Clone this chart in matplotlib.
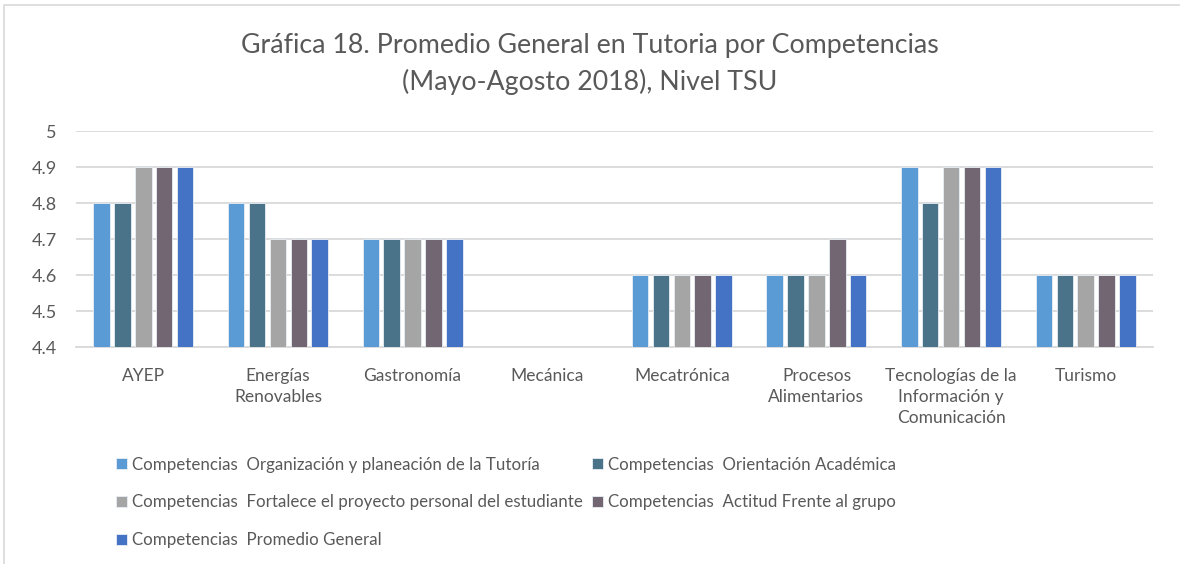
import matplotlib
matplotlib.use("Agg")
import matplotlib.pyplot as plt
import numpy as np
from matplotlib.patches import Rectangle

plt.rcParams["font.family"] = ["Lato", "DejaVu Sans"]

categories = ["AYEP", "Energías\nRenovables", "Gastronomía", "Mecánica", "Mecatrónica",
              "Procesos\nAlimentarios", "Tecnologías de la\nInformación y\nComunicación", "Turismo"]
series_names = [
    "Competencias  Organización y planeación de la Tutoría",
    "Competencias  Orientación Académica",
    "Competencias  Fortalece el proyecto personal del estudiante",
    "Competencias  Actitud Frente al grupo",
    "Competencias  Promedio General",
]
nan = np.nan
organizacion = [4.8, 4.8, 4.7, nan, 4.6, 4.6, 4.9, 4.6]
orientacion = [4.8, 4.8, 4.7, nan, 4.6, 4.6, 4.8, 4.6]
fortalece = [4.9, 4.7, 4.7, nan, 4.6, 4.6, 4.9, 4.6]
actitud = [4.9, 4.7, 4.7, nan, 4.6, 4.7, 4.9, 4.6]
promedio = [4.9, 4.7, 4.7, nan, 4.6, 4.6, 4.9, 4.6]
series = [organizacion, orientacion, fortalece, actitud, promedio]
colors = ["#5B9BD5", "#4A7389", "#A5A5A5", "#736673", "#4472C4"]
yticks = [4.4, 4.5, 4.6, 4.7, 4.8, 4.9, 5.0]
ytick_labels = ["4.4", "4.5", "4.6", "4.7", "4.8", "4.9", "5"]

W, H = 1180, 564
fig = plt.figure(figsize=(W / 100, H / 100), dpi=100)
fig.patches.append(Rectangle((4 / W, -0.1), 1.2, 1 - 5 / H + 0.1, transform=fig.transFigure,
                             fill=False, edgecolor="#D9D9D9", lw=1.2))

ax = fig.add_axes([76 / W, 1 - 347 / H, (1153 - 76) / W, (347 - 131) / H])
x = np.arange(len(categories))
pitch, bw = 0.155, 0.123
for i, (vals, c, name) in enumerate(zip(series, colors, series_names)):
    v = np.array(vals, dtype=float)
    ax.bar(x + (i - 2) * pitch, v - 4.4, bw, bottom=4.4, color=c, label=name,
           edgecolor="#E8EEF5", linewidth=0.6, zorder=3)

ax.set_xlim(-0.5, len(categories) - 0.5)
ax.set_ylim(4.4, 5.0)
ax.set_yticks(yticks)
ax.set_yticklabels(ytick_labels, fontsize=13, color="#595959")
ax.set_xticks(x)
ax.set_xticklabels(categories, fontsize=12.5, color="#595959", linespacing=1.4)
ax.tick_params(axis="x", length=0, pad=15)
ax.tick_params(axis="y", length=0, pad=14)
ax.grid(axis="y", color="#D9D9D9", lw=1.3, zorder=0)
for s in ["top", "right", "left"]:
    ax.spines[s].set_visible(False)
ax.spines["bottom"].set_color("#D9D9D9")
ax.spines["bottom"].set_linewidth(1.3)

fig.text(0.5, 1 - 46 / H, "Gráfica 18. Promedio General en Tutoria por Competencias",
         ha="center", va="center", fontsize=19.3, color="#595959")
fig.text(0.5, 1 - 82 / H, "(Mayo-Agosto 2018), Nivel TSU",
         ha="center", va="center", fontsize=19.3, color="#595959")

handles, labels = ax.get_legend_handles_labels()
order = [0, 2, 4, 1, 3]
ax.legend([handles[k] for k in order], [labels[k] for k in order], ncol=2, loc="upper left",
          bbox_to_anchor=(109 / W, 1 - 450 / H), bbox_transform=fig.transFigure,
          frameon=False, fontsize=12.2, handlelength=0.65, handleheight=0.65,
          handletextpad=0.3, columnspacing=0.55, labelspacing=1.28,
          labelcolor="#595959", borderaxespad=0)

fig.savefig("out.png", dpi=100)
